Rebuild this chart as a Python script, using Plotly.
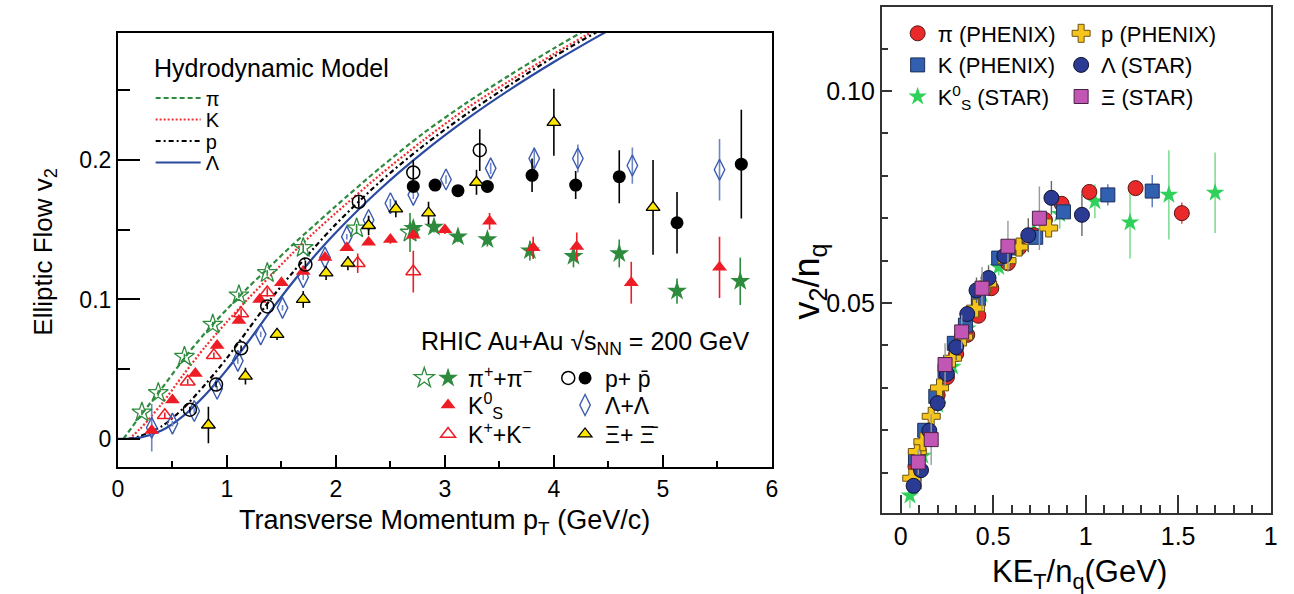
import plotly.graph_objects as go

W, H = 1294, 594
FONT = "Liberation Sans, Arial, sans-serif"

# ---------------- Left panel: v2 vs pT ----------------
# hydrodynamic model curves
hydro_pi_x = [0.05, 0.2, 0.4, 0.6, 0.8, 1.0, 1.2, 1.4, 1.6, 1.8, 2.0, 2.4, 2.8, 3.2, 3.6, 4.0, 4.4, 4.8]
hydro_pi_y = [0.0, 0.016, 0.036, 0.057, 0.076, 0.093, 0.109, 0.124, 0.139, 0.153, 0.167, 0.194, 0.219, 0.241, 0.261, 0.280, 0.298, 0.315]
hydro_k_x = [0.1, 0.2, 0.4, 0.6, 0.8, 1.0, 1.2, 1.4, 1.6, 1.8, 2.0, 2.4, 2.8, 3.2, 3.6, 4.0, 4.4, 4.8]
hydro_k_y = [0.0, 0.007, 0.025, 0.046, 0.066, 0.084, 0.101, 0.117, 0.133, 0.148, 0.162, 0.189, 0.214, 0.237, 0.257, 0.276, 0.294, 0.311]
hydro_p_x = [0.1, 0.2, 0.4, 0.6, 0.8, 1.0, 1.2, 1.4, 1.6, 1.8, 2.0, 2.4, 2.8, 3.2, 3.6, 4.0, 4.4, 4.8]
hydro_p_y = [0.0, 0.002, 0.009, 0.022, 0.039, 0.058, 0.079, 0.100, 0.119, 0.137, 0.154, 0.184, 0.210, 0.233, 0.254, 0.274, 0.292, 0.309]
hydro_l_x = [0.0, 0.2, 0.4, 0.6, 0.8, 1.0, 1.2, 1.4, 1.6, 1.8, 2.0, 2.4, 2.8, 3.2, 3.6, 4.0, 4.4, 4.8]
hydro_l_y = [0.0, 0.001, 0.006, 0.0165, 0.0315, 0.0497, 0.0702, 0.0916, 0.112, 0.1308, 0.148, 0.1786, 0.2054, 0.2292, 0.2506, 0.2702, 0.2884, 0.3058]

# pi+ + pi- (open stars, filled stars)
pi_open_x = [0.22, 0.37, 0.61, 0.87, 1.11, 1.37, 1.70, 2.19, 2.68]
pi_open_y = [0.019, 0.033, 0.059, 0.082, 0.103, 0.119, 0.137, 0.151, 0.148]
pi_open_e = [0.002, 0.002, 0.002, 0.002, 0.002, 0.002, 0.003, 0.003, 0.014]
pi_fill_x = [2.71, 2.90, 3.12, 3.39, 3.78, 4.18, 4.60, 5.13, 5.71]
pi_fill_y = [0.151, 0.152, 0.145, 0.143, 0.135, 0.131, 0.133, 0.106, 0.113]
pi_fill_e = [0.004, 0.004, 0.004, 0.005, 0.007, 0.008, 0.010, 0.009, 0.017]

# K0s (filled red triangles)
k0s_x = [0.31, 0.50, 0.71, 0.91, 1.11, 1.30, 1.50, 1.70, 1.90, 2.10, 2.30, 2.50, 2.71, 3.00, 3.41, 3.81, 4.21, 4.71, 5.52]
k0s_y = [0.006, 0.028, 0.047, 0.067, 0.085, 0.100, 0.112, 0.120, 0.130, 0.137, 0.141, 0.143, 0.146, 0.150, 0.156, 0.137, 0.138, 0.112, 0.123]
k0s_e = [0.002, 0.002, 0.002, 0.002, 0.002, 0.002, 0.002, 0.002, 0.002, 0.002, 0.002, 0.003, 0.003, 0.003, 0.006, 0.008, 0.010, 0.015, 0.022]

# K+ + K- (open red triangles)
kpm_x = [0.43, 0.64, 0.88, 1.13, 1.37, 2.20, 2.71]
kpm_y = [0.017, 0.041, 0.060, 0.090, 0.105, 0.126, 0.120]
kpm_e = [0.002, 0.002, 0.002, 0.003, 0.003, 0.007, 0.015]

# p + pbar (open and filled black circles)
p_open_x = [0.66, 0.90, 1.13, 1.37, 1.72, 2.21, 2.71, 3.32]
p_open_y = [0.021, 0.039, 0.065, 0.095, 0.125, 0.170, 0.191, 0.207]
p_open_e = [0.002, 0.002, 0.002, 0.002, 0.003, 0.004, 0.009, 0.015]
p_fill_x = [2.71, 2.91, 3.12, 3.39, 3.80, 4.20, 4.60, 5.13, 5.72]
p_fill_y = [0.181, 0.182, 0.178, 0.181, 0.189, 0.182, 0.188, 0.155, 0.197]
p_fill_e = [0.004, 0.003, 0.003, 0.004, 0.012, 0.010, 0.019, 0.022, 0.039]

# Lambda + anti-Lambda (open blue diamonds)
lam_x = [0.31, 0.50, 0.70, 0.91, 1.10, 1.31, 1.51, 1.70, 1.90, 2.10, 2.30, 2.50, 2.71, 3.01, 3.42, 3.82, 4.22, 4.72, 5.52]
lam_y = [0.008, 0.011, 0.020, 0.036, 0.056, 0.075, 0.094, 0.116, 0.130, 0.145, 0.157, 0.169, 0.175, 0.186, 0.194, 0.201, 0.201, 0.196, 0.193]
lam_e = [0.017, 0.002, 0.002, 0.002, 0.002, 0.002, 0.002, 0.002, 0.002, 0.002, 0.003, 0.003, 0.003, 0.003, 0.004, 0.008, 0.010, 0.013, 0.022]

# Xi + anti-Xi (yellow triangles)
xi_x = [0.83, 1.17, 1.46, 1.70, 1.91, 2.11, 2.30, 2.55, 2.85, 3.29, 4.00, 4.91]
xi_y = [0.010, 0.045, 0.075, 0.100, 0.119, 0.126, 0.153, 0.165, 0.162, 0.184, 0.227, 0.166]
xi_e = [0.013, 0.006, 0.004, 0.006, 0.005, 0.005, 0.007, 0.006, 0.008, 0.009, 0.024, 0.034]

# ---------------- Right panel: v2/nq vs KET/nq ----------------
pi_ph_x = [0.08, 0.14, 0.20, 0.25, 0.30, 0.36, 0.42, 0.49, 0.58, 0.64, 0.72, 0.78, 0.87, 1.02, 1.27, 1.52]
pi_ph_y = [0.0115, 0.0190, 0.0283, 0.0325, 0.0380, 0.0425, 0.0470, 0.0535, 0.0594, 0.0630, 0.0660, 0.0696, 0.0734, 0.0762, 0.0771, 0.0712]
pi_ph_e = [0.0005, 0.0005, 0.0005, 0.0005, 0.0005, 0.0005, 0.0006, 0.0006, 0.0007, 0.0008, 0.0009, 0.001, 0.001, 0.0012, 0.0015, 0.0025]

k_ph_x = [0.08, 0.13, 0.19, 0.24, 0.29, 0.35, 0.42, 0.53, 0.62, 0.73, 0.88, 1.12, 1.36]
k_ph_y = [0.0135, 0.0200, 0.0280, 0.0340, 0.0405, 0.0448, 0.0510, 0.0606, 0.0630, 0.0655, 0.0715, 0.0755, 0.0764]
k_ph_e = [0.0008, 0.0008, 0.0008, 0.0008, 0.0008, 0.0009, 0.001, 0.001, 0.0012, 0.0015, 0.002, 0.0025, 0.0038]

p_ph_x = [0.06, 0.09, 0.12, 0.165, 0.21, 0.28, 0.34, 0.405, 0.47, 0.575, 0.64, 0.80]
p_ph_y = [0.0087, 0.0150, 0.0173, 0.0233, 0.0300, 0.0370, 0.0420, 0.0488, 0.0545, 0.0600, 0.0632, 0.0677]
p_ph_e = [0.0008, 0.0008, 0.0008, 0.0008, 0.0009, 0.001, 0.001, 0.001, 0.0012, 0.0013, 0.0015, 0.002]

lam_st_x = [0.07, 0.11, 0.155, 0.20, 0.25, 0.30, 0.36, 0.41, 0.475, 0.56, 0.69, 0.815, 0.98]
lam_st_y = [0.0069, 0.0106, 0.0199, 0.0264, 0.0333, 0.0396, 0.0474, 0.0530, 0.0559, 0.0611, 0.0660, 0.0748, 0.0708]
lam_st_e = [0.001, 0.0045, 0.002, 0.002, 0.002, 0.003, 0.002, 0.003, 0.003, 0.003, 0.004, 0.004, 0.005]

k0s_st_x = [0.05, 0.12, 0.20, 0.28, 0.36, 0.44, 0.53, 0.62, 0.72, 0.86, 1.05, 1.24, 1.45, 1.70]
k0s_st_y = [0.0046, 0.0140, 0.0260, 0.0350, 0.0440, 0.0520, 0.0585, 0.0630, 0.0670, 0.0710, 0.0740, 0.0690, 0.0755, 0.0760]
k0s_st_e = [0.003, 0.002, 0.002, 0.002, 0.002, 0.002, 0.002, 0.002, 0.003, 0.0035, 0.004, 0.0085, 0.0105, 0.0095]

xi_st_x = [0.095, 0.165, 0.24, 0.33, 0.44, 0.58, 0.75]
xi_st_y = [0.0125, 0.0178, 0.0355, 0.0432, 0.0535, 0.0634, 0.0700]
xi_st_e = [0.003, 0.006, 0.005, 0.004, 0.005, 0.006, 0.0075]

# tick labels
left_x_ticks = [0, 1, 2, 3, 4, 5, 6]
left_y_ticks = [0, 0.1, 0.2]
left_y_labels = ["0", "0.1", "0.2"]
right_x_ticks = [0, 0.5, 1, 1.5, 2]
right_x_labels = ["0", "0.5", "1", "1.5", "1"]
right_y_ticks = [0.05, 0.10]
right_y_labels = ["0.05", "0.10"]

# ---------------- colours ----------------
C_PI = "#2e8b3e"
C_K = "#ee1c25"
C_LAM = "#3a5bb0"
C_HLAM = "#2a4a9f"
C_XI = "#ffe600"

fig = go.Figure()


def px_x(p):
    return p / W


def px_y(p):
    return 1 - p / H


# hydro lines
hydro = [
    (hydro_pi_x, hydro_pi_y, "π", C_PI, "5px,3px", "legend"),
    (hydro_k_x, hydro_k_y, "K", "#f03030", "2px,2px", "legend2"),
    (hydro_p_x, hydro_p_y, "p", "black", "5px,3px,2px,3px", "legend3"),
    (hydro_l_x, hydro_l_y, "Λ", C_HLAM, "solid", "legend4"),
]
for hx, hy, nm, col, dash, lg in hydro:
    fig.add_trace(go.Scatter(x=hx, y=hy, mode="lines", name=nm, legend=lg, showlegend=True,
                             line=dict(color=col, dash=dash, width=2.2, shape="spline", smoothing=0.8),
                             xaxis="x", yaxis="y", hoverinfo="skip"))


def err(arr, col, th=1.6):
    return dict(type="data", array=arr, visible=True, width=0, thickness=th, color=col)


# left data
fig.add_trace(go.Scatter(x=kpm_x, y=kpm_y, mode="markers", name="K<sup>+</sup>+K<sup>−</sup>", legend="legend7",
                         error_y=err(kpm_e, C_K), legendrank=1,
                         marker=dict(symbol="triangle-up-open", size=13, color=C_K, line=dict(width=1.5, color=C_K))))
fig.add_trace(go.Scatter(x=lam_x, y=lam_y, mode="markers", name="Λ+Λ", legend="legend6",
                         error_y=err(lam_e, "#6f86c6"), legendrank=2,
                         marker=dict(symbol="diamond-tall-open", size=15, color=C_LAM, line=dict(width=1.4, color=C_LAM))))
fig.add_trace(go.Scatter(x=pi_open_x, y=pi_open_y, mode="markers", name=" ", legend="legend8",
                         error_y=err(pi_open_e, C_PI), legendrank=1,
                         marker=dict(symbol="star-open", size=15, color=C_PI, line=dict(width=1.3, color=C_PI))))
fig.add_trace(go.Scatter(x=pi_fill_x, y=pi_fill_y, mode="markers", name="π<sup>+</sup>+π<sup>−</sup>", legend="legend5",
                         error_y=err(pi_fill_e, C_PI), legendrank=1,
                         marker=dict(symbol="star", size=15, color=C_PI, line=dict(width=0))))
fig.add_trace(go.Scatter(x=k0s_x, y=k0s_y, mode="markers", name="K<sup>0</sup><sub>S</sub>", legend="legend6",
                         error_y=err(k0s_e, C_K), legendrank=1,
                         marker=dict(symbol="triangle-up", size=13, color=C_K, line=dict(width=0))))
fig.add_trace(go.Scatter(x=p_open_x, y=p_open_y, mode="markers", name=" ", legend="legend8",
                         error_y=err(p_open_e, "black"), legendrank=2,
                         marker=dict(symbol="circle-open", size=13, color="black", line=dict(width=1.5, color="black"))))
fig.add_trace(go.Scatter(x=p_fill_x, y=p_fill_y, mode="markers", name="p+ p\u0304", legend="legend5",
                         error_y=err(p_fill_e, "black"), legendrank=2,
                         marker=dict(symbol="circle", size=13, color="black", line=dict(width=0))))
fig.add_trace(go.Scatter(x=xi_x, y=xi_y, mode="markers", name="Ξ+ Ξ\u0304", legend="legend7",
                         error_y=err(xi_e, "black"), legendrank=2,
                         marker=dict(symbol="triangle-up", size=12, color=C_XI, line=dict(width=1.3, color="black"))))

# right data: (x, y, err, name, symbol, size, fill, outline, errcolor, legend, rank)
right = [
    (k0s_st_x, k0s_st_y, k0s_st_e, "K<sup>0</sup><sub>S</sub> (STAR)", "star", 14, "#2fd15a", "#2fd15a", "#6fd985", "legend9", 3),
    (pi_ph_x, pi_ph_y, pi_ph_e, "π (PHENIX)", "circle", 15, "#ea2a2a", "#5a1515", "#d84040", "legend9", 1),
    (k_ph_x, k_ph_y, k_ph_e, "K (PHENIX)", "square", 14, "#3260b0", "#1c2f5a", "#5577bb", "legend9", 2),
    (p_ph_x, p_ph_y, p_ph_e, "p (PHENIX)", "cross", 15, "#f6c51c", "#6b5210", "#aaaaaa", "legend10", 1),
    (lam_st_x, lam_st_y, lam_st_e, "Λ (STAR)", "circle", 15, "#2b3a92", "#111533", "#666666", "legend10", 2),
    (xi_st_x, xi_st_y, xi_st_e, "Ξ (STAR)", "square", 14, "#c256b4", "#4a2044", "#999999", "legend10", 3),
]
for rx, ry, re_, nm, sym, sz, fc, lc, ec, lg, rk in right:
    lw = 0 if sym == "star" else 1.0
    fig.add_trace(go.Scatter(x=rx, y=ry, mode="markers", name=nm, legend=lg, legendrank=rk,
                             error_y=err(re_, ec, 1.4),
                             marker=dict(symbol=sym, size=sz, color=fc, line=dict(width=lw, color=lc)),
                             xaxis="x2", yaxis="y2"))

AX_COMMON = dict(showgrid=False, zeroline=False, showline=True, mirror=True, ticks="inside",
                 tickcolor="black", tickwidth=1.5)

layout = dict(
    width=W, height=H, margin=dict(l=0, r=0, t=0, b=0), showlegend=True,
    paper_bgcolor="white", plot_bgcolor="white",
    font=dict(family=FONT, color="black"),
    xaxis=dict(AX_COMMON, domain=[px_x(113), px_x(773)], range=[0, 6], tickvals=left_x_ticks,
               ticklen=12, linecolor="black", linewidth=2, anchor="y",
               tickfont=dict(size=23, family=FONT),
               minor=dict(dtick=0.5, tick0=0, ticklen=6, ticks="inside", tickcolor="black", tickwidth=1.5)),
    yaxis=dict(AX_COMMON, domain=[px_y(467), px_y(33)], range=[-0.0201, 0.291], tickvals=left_y_ticks,
               ticktext=left_y_labels, ticklen=22, linecolor="black", linewidth=2, anchor="x",
               tickfont=dict(size=23, family=FONT),
               minor=dict(dtick=0.05, tick0=0, ticklen=12, ticks="inside", tickcolor="black", tickwidth=1.5)),
    xaxis2=dict(AX_COMMON, domain=[px_x(884), px_x(1277)], range=[-0.102, 2.003], tickvals=right_x_ticks,
                ticktext=right_x_labels, ticklen=18, linecolor="#333333", linewidth=2, anchor="y2",
                tickcolor="#333333", tickfont=dict(size=25, family=FONT),
                minor=dict(dtick=0.1, tick0=0, ticklen=8, ticks="inside", tickcolor="#333333", tickwidth=1.5)),
    yaxis2=dict(AX_COMMON, domain=[px_y(513), px_y(7)], range=[0.0005, 0.1198], tickvals=right_y_ticks,
                ticktext=right_y_labels, ticklen=10, linecolor="#333333", linewidth=2, anchor="x2",
                tickcolor="#333333", tickfont=dict(size=25, family=FONT),
                minor=dict(dtick=0.01, tick0=0, ticklen=6, ticks="inside", tickcolor="#333333", tickwidth=1.5)),
)

LEG = dict(bgcolor="rgba(0,0,0,0)", borderwidth=0, xanchor="left", yanchor="middle",
           itemclick=False, itemdoubleclick=False)

# hydro legend rows
hydro_rows = [98, 119.5, 141, 162.5]
for lg, yy in zip(["legend", "legend2", "legend3", "legend4"], hydro_rows):
    layout[lg] = dict(LEG, x=px_x(146), y=px_y(yy), orientation="v", itemwidth=45,
                      font=dict(size=20, family=FONT))
# lower legend rows (left panel)
for lg, yy in (("legend5", 378), ("legend6", 405), ("legend7", 434)):
    layout[lg] = dict(LEG, x=px_x(426), y=px_y(yy), orientation="h", entrywidth=92,
                      font=dict(size=23, family=FONT))
layout["legend8"] = dict(LEG, x=px_x(402), y=px_y(378), orientation="h", entrywidth=99,
                         font=dict(size=23, family=FONT))
# right legend columns
layout["legend9"] = dict(LEG, x=px_x(900), y=px_y(65), orientation="v", font=dict(size=22, family=FONT))
layout["legend10"] = dict(LEG, x=px_x(1065), y=px_y(65), orientation="v", font=dict(size=22, family=FONT))

annotations = [
    dict(text="Hydrodynamic Model", x=px_x(147), y=px_y(68), xanchor="left", yanchor="middle",
         font=dict(size=25, family=FONT)),
    dict(text="RHIC Au+Au √s<sub>NN</sub> = 200 GeV", x=px_x(417), y=px_y(343), xanchor="left",
         yanchor="middle", font=dict(size=25, family=FONT)),
    dict(text="Elliptic Flow v<sub>2</sub>", x=px_x(38), y=px_y(252), textangle=-90, xanchor="center",
         yanchor="middle", font=dict(size=26, family=FONT)),
    dict(text="Transverse Momentum p<sub>T</sub> (GeV/c)", x=px_x(443), y=px_y(522), xanchor="center",
         yanchor="middle", font=dict(size=27, family=FONT)),
    dict(text="v<sub>2</sub>/n<sub>q</sub>", x=px_x(811), y=px_y(281), textangle=-90, xanchor="center",
         yanchor="middle", font=dict(size=36, family=FONT)),
    dict(text="KE<sub>T</sub>/n<sub>q</sub>(GeV)", x=px_x(1084), y=px_y(574), xanchor="center",
         yanchor="middle", font=dict(size=31, family=FONT)),
]
for a in annotations:
    a.update(xref="paper", yref="paper", showarrow=False)
layout["annotations"] = annotations

fig.update_layout(**layout)
fig.write_html("out.html")
